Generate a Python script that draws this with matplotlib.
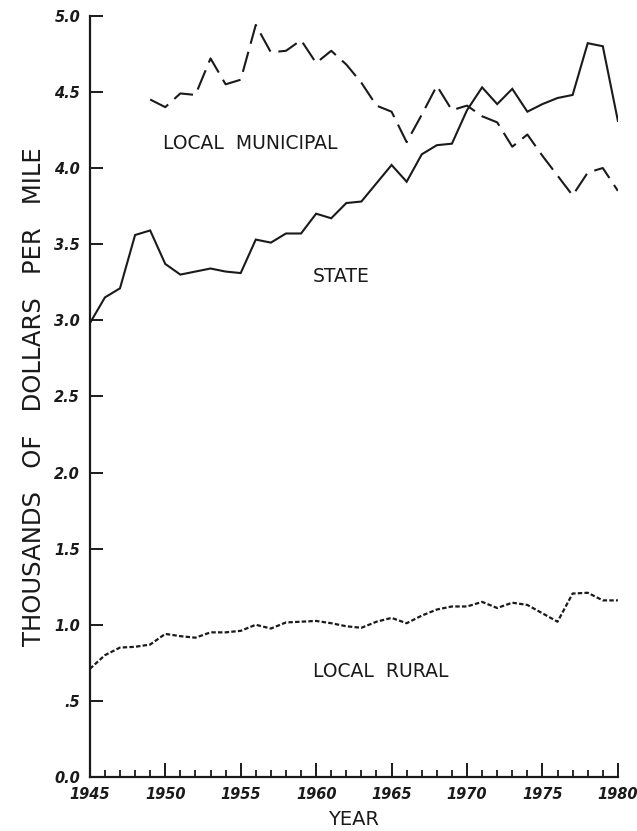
import matplotlib
matplotlib.use("Agg")
import matplotlib.pyplot as plt
from matplotlib.ticker import MultipleLocator, FixedLocator
from matplotlib.font_manager import FontProperties

years_state = list(range(1945, 1981))
state = [2.98, 3.15, 3.21, 3.56, 3.59, 3.37, 3.30, 3.32, 3.34, 3.32, 3.31, 3.53,
         3.51, 3.57, 3.57, 3.70, 3.67, 3.77, 3.78, 3.90, 4.02, 3.91, 4.09, 4.15,
         4.16, 4.38, 4.53, 4.42, 4.52, 4.37, 4.42, 4.46, 4.48, 4.82, 4.80, 4.31]

years_muni = list(range(1949, 1981))
municipal = [4.45, 4.40, 4.49, 4.48, 4.72, 4.55, 4.58, 4.94, 4.76, 4.77, 4.84,
             4.69, 4.77, 4.68, 4.56, 4.41, 4.37, 4.17, 4.35, 4.54, 4.38, 4.41,
             4.34, 4.30, 4.14, 4.22, 4.08, 3.95, 3.82, 3.97, 4.00, 3.85]

years_rural = list(range(1945, 1981))
rural = [0.71, 0.80, 0.85, 0.855, 0.87, 0.94, 0.925, 0.915, 0.95, 0.95, 0.96,
         1.00, 0.975, 1.015, 1.02, 1.025, 1.01, 0.99, 0.98, 1.02, 1.045, 1.01,
         1.06, 1.10, 1.12, 1.12, 1.15, 1.11, 1.145, 1.13, 1.075, 1.02, 1.205,
         1.21, 1.16, 1.16]

y_ticks = [0.0, 0.5, 1.0, 1.5, 2.0, 2.5, 3.0, 3.5, 4.0, 4.5, 5.0]
y_ticklabels = ["0.0", ".5", "1.0", "1.5", "2.0", "2.5", "3.0", "3.5", "4.0", "4.5", "5.0"]
x_ticks = [1945, 1950, 1955, 1960, 1965, 1970, 1975, 1980]
x_ticklabels = ["1945", "1950", "1955", "1960", "1965", "1970", "1975", "1980"]

ink = "#1a1a1a"
fig = plt.figure(figsize=(6.37, 8.31), dpi=100)
ax = fig.add_axes([0.141, 0.065, 0.829, 0.916])

ax.plot(years_state, state, color=ink, lw=1.5, solid_joinstyle="miter")
ax.plot(years_muni, municipal, color=ink, lw=1.5, dashes=(10, 4))
ax.plot(years_rural, rural, color=ink, lw=1.6, dashes=(2, 1))

ax.set_xlim(1945, 1980)
ax.set_ylim(0, 5.0)
for s in ["top", "right"]:
    ax.spines[s].set_visible(False)
for s in ["left", "bottom"]:
    ax.spines[s].set_linewidth(1.6)
    ax.spines[s].set_color(ink)

ax.yaxis.set_major_locator(FixedLocator(y_ticks))
ax.set_yticklabels(y_ticklabels)
ax.xaxis.set_major_locator(FixedLocator(x_ticks))
ax.set_xticklabels(x_ticklabels)
ax.xaxis.set_minor_locator(MultipleLocator(1))

tickfont = FontProperties(family="DejaVu Sans", weight="bold", style="italic", size=10.5)
for lab in ax.get_xticklabels() + ax.get_yticklabels():
    lab.set_fontproperties(tickfont)
    lab.set_color(ink)

ax.tick_params(axis="y", direction="in", length=9, width=1.4, pad=7, colors=ink)
ax.tick_params(axis="x", which="major", direction="in", length=10, width=1.4, pad=7, colors=ink)
ax.tick_params(axis="x", which="minor", direction="in", length=5, width=1.3, colors=ink)

ax.set_ylabel("THOUSANDS   OF   DOLLARS   PER   MILE", fontsize=17.5, color=ink,
              labelpad=6, family="DejaVu Sans")
ax.set_xlabel("YEAR", fontsize=14, color=ink, labelpad=6, family="DejaVu Sans")

lblfont = dict(fontsize=13.5, color=ink, family="DejaVu Sans", va="center", ha="left")
ax.text(1949.85, 4.16, "LOCAL  MUNICIPAL", **lblfont)
ax.text(1959.8, 3.29, "STATE", **lblfont)
ax.text(1959.8, 0.69, "LOCAL  RURAL", **lblfont)

fig.savefig("out.png", dpi=100, facecolor="white")
